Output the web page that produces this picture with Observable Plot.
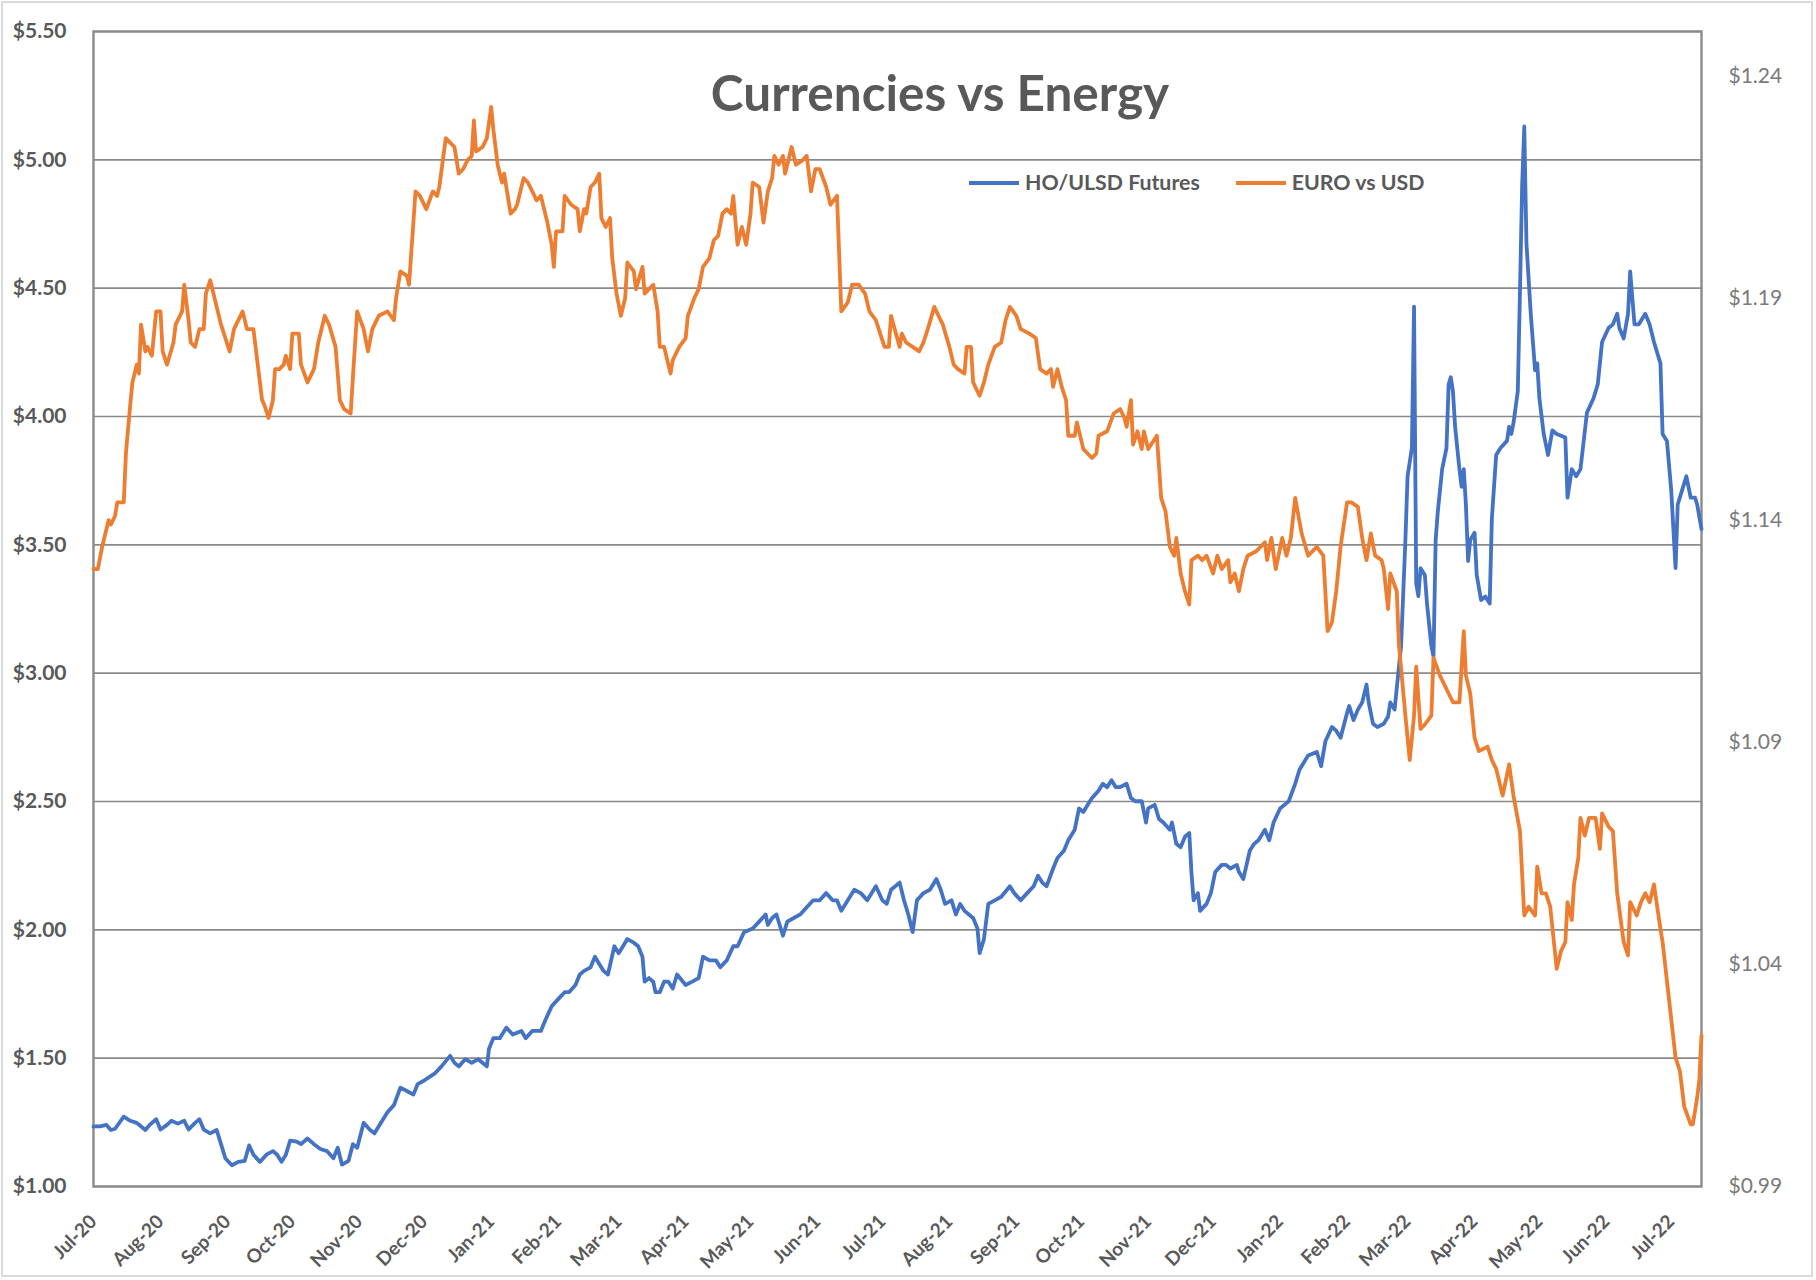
<!DOCTYPE html>
<html>
<head>
<meta charset="utf-8">
<script src="https://cdn.jsdelivr.net/npm/d3@7"></script>
<script src="https://cdn.jsdelivr.net/npm/@observablehq/plot@0.6"></script>
<style>
  html, body { margin: 0; padding: 0; background: #ffffff; }
  #wrap { position: relative; width: 1816px; height: 1280px; overflow: hidden; background: #fff; }
  #border { position: absolute; left: 1px; top: 1px; width: 1812px; height: 1276px; border: 2px solid #dadada; box-sizing: border-box; pointer-events: none; }
  #title { position: absolute; left: 940px; top: 63px; transform: translateX(-50%); font-family: Lato, "Open Sans", sans-serif; font-weight: bold; font-size: 49.5px; line-height: 1.2; color: #595959; white-space: nowrap; }
  #legend { position: absolute; left: 969px; top: 170px; display: flex; align-items: center; font-family: Lato, "Open Sans", sans-serif; font-weight: bold; font-size: 21.3px; line-height: 1.2; color: #595959; white-space: nowrap; }
  #legend .sw { display: inline-block; width: 50px; height: 4px; margin-right: 6px; }
</style>
</head>
<body>
<div id="wrap">
  <div id="chart"></div>
  <div id="title"></div>
  <div id="legend"></div>
  <div id="border"></div>
</div>
<script>
// ---------------- DATA ----------------
const seriesNames = ["HO/ULSD Futures", "EURO vs USD"];
const seriesColors = ["#4472C4", "#ED7D31"];
const chartTitle = "Currencies vs Energy";

const hoDates = [
"2020-07-01","2020-07-04","2020-07-07","2020-07-09","2020-07-11","2020-07-15","2020-07-18","2020-07-21","2020-07-25","2020-07-27","2020-07-30",
"2020-08-01","2020-08-04","2020-08-06","2020-08-09","2020-08-12","2020-08-14","2020-08-17","2020-08-19","2020-08-21","2020-08-24","2020-08-27","2020-08-29","2020-08-31",
"2020-09-03","2020-09-06","2020-09-09","2020-09-11","2020-09-13","2020-09-16","2020-09-19","2020-09-22","2020-09-24","2020-09-26","2020-09-28","2020-09-30",
"2020-10-03","2020-10-05","2020-10-08","2020-10-11","2020-10-14","2020-10-17","2020-10-20","2020-10-22","2020-10-24","2020-10-27","2020-10-29","2020-10-31",
"2020-11-03","2020-11-06","2020-11-08","2020-11-11","2020-11-14","2020-11-17","2020-11-20","2020-11-23","2020-11-26","2020-11-28",
"2020-12-01","2020-12-04","2020-12-06","2020-12-09","2020-12-13","2020-12-15","2020-12-17","2020-12-20","2020-12-23","2020-12-26","2020-12-30","2020-12-31",
"2021-01-02","2021-01-05","2021-01-08","2021-01-11","2021-01-15","2021-01-17","2021-01-20","2021-01-24","2021-01-26","2021-01-29",
"2021-02-01","2021-02-04","2021-02-06","2021-02-09","2021-02-11","2021-02-13","2021-02-16","2021-02-18","2021-02-20","2021-02-22","2021-02-24","2021-02-27",
"2021-03-01","2021-03-03","2021-03-05","2021-03-08","2021-03-10","2021-03-12","2021-03-13","2021-03-15","2021-03-17","2021-03-18","2021-03-20","2021-03-22","2021-03-24","2021-03-26","2021-03-28",
"2021-04-01","2021-04-04","2021-04-07","2021-04-09","2021-04-12","2021-04-15","2021-04-17","2021-04-20","2021-04-23","2021-04-25","2021-04-28",
"2021-05-02","2021-05-05","2021-05-08","2021-05-09","2021-05-11","2021-05-13","2021-05-16","2021-05-18","2021-05-21","2021-05-24","2021-05-27","2021-05-30",
"2021-06-02","2021-06-05","2021-06-08","2021-06-10","2021-06-12","2021-06-15","2021-06-18","2021-06-21","2021-06-24","2021-06-28",
"2021-07-01","2021-07-03","2021-07-05","2021-07-09","2021-07-11","2021-07-13","2021-07-15","2021-07-17","2021-07-20","2021-07-23","2021-07-26","2021-07-28","2021-07-30",
"2021-08-02","2021-08-04","2021-08-06","2021-08-08","2021-08-12","2021-08-14","2021-08-15","2021-08-17","2021-08-19","2021-08-22","2021-08-25","2021-08-29","2021-08-31",
"2021-09-03","2021-09-06","2021-09-09","2021-09-11","2021-09-13","2021-09-15","2021-09-18","2021-09-20","2021-09-23","2021-09-25","2021-09-28","2021-09-30",
"2021-10-02","2021-10-04","2021-10-06","2021-10-09","2021-10-11","2021-10-13","2021-10-15","2021-10-17","2021-10-19","2021-10-22","2021-10-24","2021-10-26","2021-10-29","2021-10-31",
"2021-11-01","2021-11-04","2021-11-06","2021-11-08","2021-11-11","2021-11-12","2021-11-14","2021-11-16","2021-11-18","2021-11-20","2021-11-21","2021-11-22","2021-11-24","2021-11-25","2021-11-28","2021-11-30",
"2021-12-02","2021-12-05","2021-12-07","2021-12-09","2021-12-12","2021-12-13","2021-12-15","2021-12-18","2021-12-20","2021-12-22","2021-12-25","2021-12-27","2021-12-29",
"2022-01-01","2022-01-03","2022-01-05","2022-01-08","2022-01-10","2022-01-12","2022-01-14","2022-01-18","2022-01-20","2022-01-22","2022-01-25","2022-01-27","2022-01-29",
"2022-02-01","2022-02-02","2022-02-04","2022-02-06","2022-02-08","2022-02-10","2022-02-11","2022-02-13","2022-02-15","2022-02-18","2022-02-20","2022-02-21","2022-02-23","2022-02-24","2022-02-26","2022-02-28",
"2022-03-01","2022-03-03","2022-03-04","2022-03-05","2022-03-06","2022-03-07","2022-03-09","2022-03-10","2022-03-12","2022-03-13","2022-03-14","2022-03-15","2022-03-17","2022-03-19","2022-03-20","2022-03-21","2022-03-22","2022-03-23","2022-03-25","2022-03-26","2022-03-27","2022-03-28","2022-03-29","2022-03-30",
"2022-04-01","2022-04-02","2022-04-04","2022-04-06","2022-04-08","2022-04-09","2022-04-11","2022-04-13","2022-04-16","2022-04-17","2022-04-18","2022-04-19","2022-04-21","2022-04-22","2022-04-23","2022-04-24","2022-04-25","2022-04-27","2022-04-29","2022-04-30",
"2022-05-01","2022-05-03","2022-05-05","2022-05-07","2022-05-09","2022-05-13","2022-05-14","2022-05-16","2022-05-18","2022-05-20","2022-05-23","2022-05-26","2022-05-28","2022-05-30",
"2022-06-02","2022-06-04","2022-06-06","2022-06-07","2022-06-09","2022-06-11","2022-06-12","2022-06-14","2022-06-16","2022-06-19","2022-06-21","2022-06-23","2022-06-26","2022-06-27","2022-06-29",
"2022-07-01","2022-07-03","2022-07-04","2022-07-06","2022-07-08","2022-07-10","2022-07-12","2022-07-13","2022-07-15"
];
const hoValues = [
1.234,1.234,1.240,1.220,1.225,1.272,1.256,1.248,1.220,1.240,1.262,
1.222,1.240,1.256,1.245,1.256,1.222,1.248,1.262,1.222,1.207,1.220,1.165,1.110,
1.083,1.096,1.100,1.160,1.124,1.096,1.124,1.138,1.124,1.096,1.124,1.179,
1.175,1.165,1.187,1.165,1.146,1.138,1.110,1.151,1.085,1.100,1.165,1.151,
1.248,1.220,1.207,1.248,1.289,1.317,1.385,1.372,1.358,1.399,
1.413,1.430,1.441,1.468,1.509,1.482,1.468,1.496,1.482,1.496,1.468,1.537,
1.578,1.578,1.619,1.592,1.606,1.578,1.606,1.606,1.647,1.702,
1.730,1.757,1.757,1.785,1.826,1.840,1.854,1.895,1.867,1.840,1.826,1.936,
1.909,1.936,1.964,1.950,1.936,1.895,1.798,1.812,1.798,1.757,1.757,1.798,1.798,1.771,1.826,
1.785,1.798,1.812,1.895,1.881,1.881,1.854,1.881,1.936,1.936,1.991,
2.005,2.032,2.060,2.019,2.046,2.060,1.977,2.032,2.046,2.060,2.088,2.115,
2.115,2.143,2.115,2.115,2.074,2.115,2.156,2.143,2.115,2.170,
2.115,2.101,2.156,2.184,2.115,2.060,1.991,2.115,2.143,2.156,2.198,2.156,2.101,
2.115,2.060,2.101,2.074,2.046,2.005,1.909,1.964,2.101,2.115,2.129,2.170,2.143,
2.115,2.143,2.170,2.211,2.184,2.170,2.239,2.280,2.308,2.349,2.390,2.473,
2.459,2.487,2.514,2.542,2.569,2.556,2.583,2.556,2.556,2.569,2.514,2.501,2.501,2.418,
2.473,2.487,2.432,2.418,2.390,2.418,2.335,2.322,2.363,2.377,2.225,2.115,2.143,2.074,2.101,2.143,
2.225,2.253,2.253,2.239,2.253,2.225,2.198,2.308,2.335,2.349,2.390,2.349,2.418,
2.473,2.487,2.501,2.569,2.624,2.652,2.679,2.693,2.638,2.735,2.790,2.776,2.748,
2.845,2.872,2.817,2.858,2.886,2.955,2.886,2.803,2.790,2.803,2.831,2.886,2.858,2.941,3.106,3.519,
3.767,3.877,4.428,3.350,3.300,3.409,3.382,3.271,3.106,3.065,3.519,3.630,3.795,3.877,4.125,4.153,4.098,3.960,3.795,3.726,3.795,3.657,3.437,3.519,
3.547,3.382,3.285,3.299,3.271,3.602,3.850,3.877,3.905,3.960,3.932,3.974,4.098,4.483,4.896,5.130,4.676,4.400,4.180,4.207,
4.070,3.932,3.850,3.946,3.932,3.918,3.684,3.795,3.767,3.795,4.015,4.070,4.125,4.290,
4.345,4.359,4.400,4.345,4.304,4.400,4.565,4.359,4.359,4.400,4.359,4.290,4.207,3.932,3.905,
3.712,3.409,3.657,3.712,3.767,3.684,3.684,3.657,3.561
];

const eurDates = [
"2020-07-01","2020-07-03","2020-07-05","2020-07-08","2020-07-09","2020-07-11","2020-07-12","2020-07-15","2020-07-16","2020-07-18","2020-07-19","2020-07-21","2020-07-22","2020-07-23","2020-07-25","2020-07-26","2020-07-28","2020-07-30",
"2020-08-01","2020-08-02","2020-08-04","2020-08-07","2020-08-08","2020-08-11","2020-08-12","2020-08-14","2020-08-15","2020-08-17","2020-08-19","2020-08-21","2020-08-22","2020-08-24","2020-08-27","2020-08-29",
"2020-09-02","2020-09-04","2020-09-08","2020-09-10","2020-09-13","2020-09-15","2020-09-17","2020-09-18","2020-09-20","2020-09-22","2020-09-23","2020-09-25","2020-09-27","2020-09-28","2020-09-30",
"2020-10-01","2020-10-04","2020-10-05","2020-10-08","2020-10-11","2020-10-13","2020-10-16","2020-10-18","2020-10-21","2020-10-23","2020-10-25","2020-10-28","2020-10-29","2020-10-31",
"2020-11-03","2020-11-05","2020-11-07","2020-11-10","2020-11-14","2020-11-17","2020-11-18","2020-11-20","2020-11-23","2020-11-24","2020-11-27","2020-11-29",
"2020-12-02","2020-12-05","2020-12-07","2020-12-08","2020-12-11","2020-12-13","2020-12-15","2020-12-17","2020-12-19","2020-12-21","2020-12-23","2020-12-24","2020-12-25","2020-12-28","2020-12-30",
"2021-01-01","2021-01-02","2021-01-04","2021-01-06","2021-01-07","2021-01-10","2021-01-12","2021-01-13","2021-01-16","2021-01-18","2021-01-20","2021-01-22","2021-01-24","2021-01-27","2021-01-29","2021-01-30","2021-01-31",
"2021-02-03","2021-02-04","2021-02-07","2021-02-10","2021-02-11","2021-02-13","2021-02-14","2021-02-16","2021-02-18","2021-02-20","2021-02-21","2021-02-23","2021-02-25","2021-02-26","2021-02-28",
"2021-03-02","2021-03-04","2021-03-05","2021-03-08","2021-03-09","2021-03-12","2021-03-13","2021-03-15","2021-03-17","2021-03-19","2021-03-20","2021-03-22","2021-03-25","2021-03-26","2021-03-29",
"2021-04-01","2021-04-02","2021-04-05","2021-04-07","2021-04-09","2021-04-12","2021-04-14","2021-04-16","2021-04-18","2021-04-20","2021-04-22","2021-04-23","2021-04-25","2021-04-27","2021-04-29",
"2021-05-01","2021-05-02","2021-05-05","2021-05-07","2021-05-09","2021-05-11","2021-05-12","2021-05-14","2021-05-16","2021-05-17","2021-05-20","2021-05-22","2021-05-25","2021-05-27","2021-05-29","2021-05-31",
"2021-06-02","2021-06-05","2021-06-07","2021-06-10","2021-06-12","2021-06-15","2021-06-17","2021-06-20","2021-06-23","2021-06-25","2021-06-28","2021-06-30",
"2021-07-02","2021-07-04","2021-07-05","2021-07-09","2021-07-10","2021-07-12","2021-07-15","2021-07-18","2021-07-20","2021-07-22","2021-07-25","2021-07-27","2021-07-29",
"2021-08-01","2021-08-03","2021-08-05","2021-08-08","2021-08-09","2021-08-11","2021-08-12","2021-08-15","2021-08-17","2021-08-19","2021-08-22","2021-08-25","2021-08-27","2021-08-29",
"2021-09-01","2021-09-03","2021-09-07","2021-09-10","2021-09-12","2021-09-15","2021-09-17","2021-09-18","2021-09-20","2021-09-22","2021-09-24","2021-09-25","2021-09-28","2021-09-29",
"2021-10-02","2021-10-04","2021-10-06","2021-10-08","2021-10-09","2021-10-13","2021-10-16","2021-10-19","2021-10-21","2021-10-22","2021-10-24","2021-10-25","2021-10-27","2021-10-29","2021-10-30",
"2021-11-01","2021-11-05","2021-11-07","2021-11-09","2021-11-11","2021-11-13","2021-11-14","2021-11-16","2021-11-18","2021-11-20","2021-11-21","2021-11-24","2021-11-26","2021-11-28",
"2021-12-01","2021-12-03","2021-12-05","2021-12-08","2021-12-09","2021-12-11","2021-12-13","2021-12-15","2021-12-17","2021-12-21","2021-12-25","2021-12-26","2021-12-28","2021-12-30",
"2022-01-02","2022-01-04","2022-01-06","2022-01-08","2022-01-11","2022-01-14","2022-01-18","2022-01-21","2022-01-23","2022-01-25","2022-01-27","2022-01-29",
"2022-02-01","2022-02-03","2022-02-06","2022-02-08","2022-02-10","2022-02-12","2022-02-14","2022-02-17","2022-02-18","2022-02-20","2022-02-21","2022-02-24","2022-02-25","2022-02-28",
"2022-03-02","2022-03-04","2022-03-05","2022-03-07","2022-03-09","2022-03-12","2022-03-13","2022-03-16","2022-03-19","2022-03-22","2022-03-25","2022-03-27","2022-03-28","2022-03-30",
"2022-04-01","2022-04-03","2022-04-07","2022-04-09","2022-04-11","2022-04-14","2022-04-17","2022-04-19","2022-04-22","2022-04-24","2022-04-26","2022-04-29","2022-04-30",
"2022-05-02","2022-05-04","2022-05-06","2022-05-09","2022-05-11","2022-05-13","2022-05-14","2022-05-16","2022-05-17","2022-05-19","2022-05-20","2022-05-22","2022-05-24","2022-05-27","2022-05-29","2022-05-30",
"2022-06-02","2022-06-04","2022-06-06","2022-06-09","2022-06-11","2022-06-12","2022-06-15","2022-06-17","2022-06-19","2022-06-21","2022-06-23","2022-06-26","2022-06-27","2022-06-30",
"2022-07-03","2022-07-05","2022-07-07","2022-07-10","2022-07-11","2022-07-13","2022-07-14","2022-07-15"
];
const eurValues = [
1.129,1.129,1.134,1.140,1.139,1.141,1.144,1.144,1.155,1.166,1.171,1.175,1.173,1.184,1.178,1.179,1.177,1.187,
1.187,1.178,1.175,1.180,1.184,1.187,1.193,1.185,1.180,1.179,1.183,1.183,1.191,1.194,1.188,1.184,
1.178,1.183,1.187,1.183,1.183,1.175,1.167,1.166,1.163,1.167,1.174,1.174,1.175,1.177,1.174,
1.182,1.182,1.175,1.171,1.174,1.180,1.186,1.184,1.179,1.167,1.165,1.164,1.172,1.187,
1.183,1.178,1.183,1.186,1.187,1.185,1.190,1.196,1.195,1.193,1.214,1.213,
1.210,1.214,1.213,1.215,1.226,1.225,1.224,1.218,1.219,1.221,1.222,1.230,1.223,1.224,1.226,
1.233,1.228,1.220,1.216,1.218,1.209,1.210,1.211,1.217,1.216,1.214,1.212,1.213,1.207,1.202,1.197,1.205,
1.205,1.213,1.211,1.210,1.205,1.210,1.209,1.215,1.216,1.218,1.208,1.206,1.208,1.199,1.191,
1.186,1.190,1.198,1.196,1.192,1.197,1.191,1.192,1.193,1.187,1.179,1.179,1.173,1.176,1.179,
1.181,1.186,1.190,1.192,1.197,1.199,1.203,1.204,1.209,1.210,1.209,1.213,1.202,1.206,1.202,
1.209,1.216,1.215,1.207,1.214,1.217,1.222,1.220,1.222,1.218,1.224,1.220,1.221,1.222,1.214,1.219,
1.219,1.215,1.211,1.213,1.187,1.189,1.193,1.193,1.191,1.187,1.185,1.182,
1.179,1.179,1.186,1.179,1.182,1.180,1.179,1.178,1.180,1.183,1.188,1.186,1.184,
1.179,1.175,1.174,1.173,1.179,1.179,1.171,1.168,1.171,1.175,1.179,1.180,1.185,1.188,
1.186,1.183,1.182,1.181,1.174,1.173,1.174,1.170,1.174,1.170,1.167,1.159,1.159,1.162,
1.156,1.155,1.154,1.155,1.159,1.160,1.164,1.165,1.163,1.161,1.167,1.157,1.160,1.156,1.160,
1.156,1.159,1.145,1.142,1.134,1.132,1.136,1.128,1.124,1.121,1.131,1.132,1.131,1.132,
1.128,1.132,1.129,1.131,1.126,1.128,1.124,1.129,1.132,1.133,1.135,1.131,1.136,1.129,
1.136,1.132,1.136,1.145,1.137,1.132,1.134,1.132,1.115,1.117,1.124,1.134,
1.144,1.144,1.143,1.136,1.131,1.137,1.132,1.131,1.129,1.120,1.128,1.124,1.112,1.096,
1.086,1.096,1.107,1.093,1.094,1.096,1.109,1.105,1.102,1.099,1.099,1.115,1.105,1.101,
1.091,1.088,1.089,1.086,1.084,1.078,1.085,1.078,1.070,1.051,1.053,1.051,1.062,
1.056,1.056,1.053,1.039,1.043,1.045,1.054,1.050,1.058,1.064,1.073,1.069,1.073,1.073,1.066,1.074,
1.071,1.070,1.056,1.045,1.042,1.054,1.051,1.054,1.056,1.054,1.058,1.048,1.045,1.032,
1.019,1.016,1.008,1.004,1.004,1.010,1.014,1.024
];

// axis ticks
const leftTicks = [1.00, 1.50, 2.00, 2.50, 3.00, 3.50, 4.00, 4.50, 5.00, 5.50];
const rightTicks = [0.99, 1.04, 1.09, 1.14, 1.19, 1.24];
const leftDomain = [1.00, 5.50];
const rightDomain = [0.99, 1.25];
const monthTicks = [
"2020-07-01","2020-08-01","2020-09-01","2020-10-01","2020-11-01","2020-12-01",
"2021-01-01","2021-02-01","2021-03-01","2021-04-01","2021-05-01","2021-06-01",
"2021-07-01","2021-08-01","2021-09-01","2021-10-01","2021-11-01","2021-12-01",
"2022-01-01","2022-02-01","2022-03-01","2022-04-01","2022-05-01","2022-06-01","2022-07-01"
];
const xDomain = ["2020-07-01", "2022-07-15"];

// ---------------- BUILD ----------------
const ho = hoDates.map((d, i) => ({date: new Date(d), value: hoValues[i]}));
const eur = eurDates.map((d, i) => ({date: new Date(d), value: eurValues[i]}));
// secondary axis: map EUR values into the primary scale's units
const eurToHo = d3.scaleLinear().domain(rightDomain).range(leftDomain);

const plot = Plot.plot({
  width: 1816,
  height: 1280,
  marginLeft: 93,
  marginRight: 115,
  marginTop: 31,
  marginBottom: 94,
  style: {fontFamily: "Lato, 'Open Sans', sans-serif", background: "transparent"},
  x: {type: "utc", domain: xDomain.map(d => new Date(d)), label: null},
  y: {domain: leftDomain, label: null},
  marks: [
    Plot.gridY(leftTicks, {stroke: "#8a8a8a", strokeOpacity: 1, strokeWidth: 1.6}),
    Plot.frame({stroke: "#8a8a8a", strokeWidth: 2.4}),
    Plot.axisY({
      anchor: "left", ticks: leftTicks, tickSize: 0, tickPadding: 27,
      tickFormat: d => "$" + d.toFixed(2),
      fontSize: 21, fontWeight: "bold", fill: "#595959", label: null
    }),
    Plot.axisY({
      anchor: "right", ticks: rightTicks.map(eurToHo), tickSize: 0, tickPadding: 27,
      tickFormat: d => "$" + eurToHo.invert(d).toFixed(2),
      fontSize: 21, fill: "#7a7a7a", label: null
    }),
    Plot.axisX({
      ticks: monthTicks.map(d => new Date(d)), tickSize: 0, tickPadding: 32,
      tickRotate: -45, tickFormat: d3.utcFormat("%b-%y"),
      fontSize: 19, fontWeight: "bold", fill: "#595959", label: null
    }),
    Plot.line(ho, {x: "date", y: "value", stroke: seriesColors[0], strokeWidth: 3.8, strokeLinejoin: "round"}),
    Plot.line(eur, {x: "date", y: d => eurToHo(d.value), stroke: seriesColors[1], strokeWidth: 3.8, strokeLinejoin: "round"})
  ]
});
document.getElementById("chart").appendChild(plot);

document.getElementById("title").textContent = chartTitle;
const legend = document.getElementById("legend");
seriesNames.forEach((name, i) => {
  const sw = document.createElement("span");
  sw.className = "sw";
  sw.style.background = seriesColors[i];
  const lab = document.createElement("span");
  lab.textContent = name;
  if (i > 0) sw.style.marginLeft = "36px";
  legend.appendChild(sw);
  legend.appendChild(lab);
});
</script>
</body>
</html>
